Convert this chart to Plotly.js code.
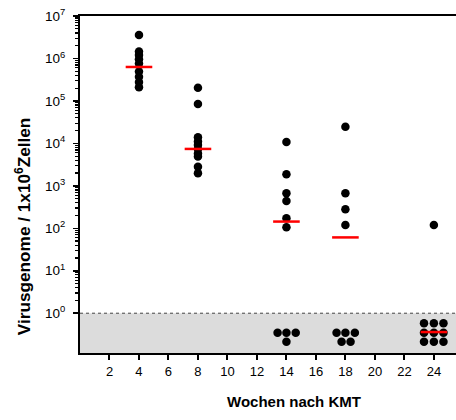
<!DOCTYPE html>
<html>
<head>
<meta charset="utf-8">
<script src="https://cdn.plot.ly/plotly-3.0.1.min.js"></script>
<style>html,body{margin:0;padding:0;background:#fff;}#chart{width:456px;height:420px;}</style>
</head>
<body>
<div id="chart"></div>
<script>
// ---- Data ----
const weekTicks = [2, 4, 6, 8, 10, 12, 14, 16, 18, 20, 22, 24];
const groupWeeks = [4, 8, 14, 18, 24];
const week4 = [3.57e6, 1.45e6, 1.2e6, 9.6e5, 7.6e5, 4.9e5, 3.7e5, 2.8e5, 2.1e5];
const week8 = [2.05e5, 8.5e4, 1.39e4, 1.1e4, 9.2e3, 7.4e3, 5.8e3, 4.9e3, 2.83e3, 1.98e3];
const week14 = [1.08e4, 1.88e3, 668, 440, 173, 106];
const week18 = [2.47e4, 668, 281, 120];
const week24 = [120];
const medians = [6.3e5, 7.4e3, 144, 61, 0.36];
// values below detection limit (plotted in the grey zone), x = week position of each dot
const belowX = [13.4, 14.0, 14.63, 14.0,
                17.4, 18.0, 18.64, 17.74, 18.35,
                23.33, 24.0, 24.65, 23.33, 24.0, 24.65, 23.33, 24.0, 24.65];
const belowY = [0.347, 0.347, 0.347, 0.213,
                0.347, 0.347, 0.347, 0.213, 0.213,
                0.578, 0.578, 0.578, 0.347, 0.347, 0.347, 0.213, 0.213, 0.213];
const detectionLimit = 1;
const yTickVals = [1, 10, 100, 1e3, 1e4, 1e5, 1e6, 1e7];
const yTickText = ['10<sup>0</sup>', '10<sup>1</sup>', '10<sup>2</sup>', '10<sup>3</sup>',
                   '10<sup>4</sup>', '10<sup>5</sup>', '10<sup>6</sup>', '10<sup>7</sup>'];

// ---- Build traces ----
const groups = [week4, week8, week14, week18, week24];
const detX = [], detY = [];
groups.forEach((vals, i) => vals.forEach(v => { detX.push(groupWeeks[i]); detY.push(v); }));

const minorVals = [];
for (let k = 0; k < 7; k++) for (let d = 2; d <= 9; d++) minorVals.push(d * Math.pow(10, k));

const font = 'Arial, "Liberation Sans", sans-serif';
const yMin = -0.937, yMax = 7;
const limitFrac = (Math.log10(detectionLimit) - yMin) / (yMax - yMin);

const traces = [
  { type: 'scatter', mode: 'markers', x: detX, y: detY, hoverinfo: 'skip',
    marker: { color: 'black', size: 8.5, symbol: 'circle' } },
  { type: 'scatter', mode: 'markers', x: belowX, y: belowY, hoverinfo: 'skip',
    marker: { color: 'black', size: 8.5, symbol: 'circle' } },
  { type: 'scatter', mode: 'markers', x: groupWeeks, y: medians, hoverinfo: 'skip',
    marker: { symbol: 'line-ew-open', size: 19, color: 'red', line: { color: 'red', width: 2.5 } } }
];

const layout = {
  width: 456, height: 420,
  margin: { l: 80, r: 0, t: 16, b: 67 },
  paper_bgcolor: 'white', plot_bgcolor: 'white',
  showlegend: false,
  font: { family: font, size: 12, color: 'black' },
  xaxis: {
    range: [0, 25.5], tickmode: 'array', tickvals: weekTicks,
    ticks: 'outside', ticklen: 5, tickwidth: 2, tickcolor: 'black',
    showline: true, linecolor: 'black', linewidth: 2, mirror: true,
    showgrid: false, zeroline: false,
    tickfont: { family: font, size: 13, color: 'black' }
  },
  yaxis: {
    type: 'log', range: [yMin, yMax],
    tickmode: 'array', tickvals: yTickVals, ticktext: yTickText,
    ticks: 'outside', ticklen: 5, tickwidth: 1.5, tickcolor: 'black',
    minor: { tickmode: 'array', tickvals: minorVals, ticks: 'outside', ticklen: 3.5, tickwidth: 1.2, tickcolor: 'black', showgrid: false },
    showline: true, linecolor: 'black', linewidth: 2,
    showgrid: false, zeroline: false, ticklabelstandoff: 5,
    tickfont: { family: font, size: 13.5, color: 'black' }
  },
  shapes: [
    { type: 'rect', xref: 'paper', yref: 'paper', x0: 0, x1: 1, y0: 0, y1: limitFrac,
      fillcolor: '#dcdcdc', line: { width: 0 }, layer: 'below' },
    { type: 'line', xref: 'paper', yref: 'paper', x0: 0, x1: 1, y0: limitFrac, y1: limitFrac,
      line: { color: '#444', width: 1, dash: 'dot' }, layer: 'below' }
  ],
  annotations: [
    { text: '<b>Virusgenome / 1x10<sup>6</sup>Zellen</b>', xref: 'paper', yref: 'paper',
      x: -0.152, y: 0.376, xanchor: 'center', yanchor: 'middle', textangle: -90, showarrow: false,
      font: { family: font, size: 17.2, color: 'black' } },
    { text: '<b>Wochen nach KMT</b>', xref: 'paper', yref: 'paper',
      x: 0.569, y: -0.145, xanchor: 'center', yanchor: 'middle', showarrow: false,
      font: { family: font, size: 15, color: 'black' } }
  ]
};

Plotly.newPlot('chart', traces, layout, { displayModeBar: false, staticPlot: true });
</script>
</body>
</html>
